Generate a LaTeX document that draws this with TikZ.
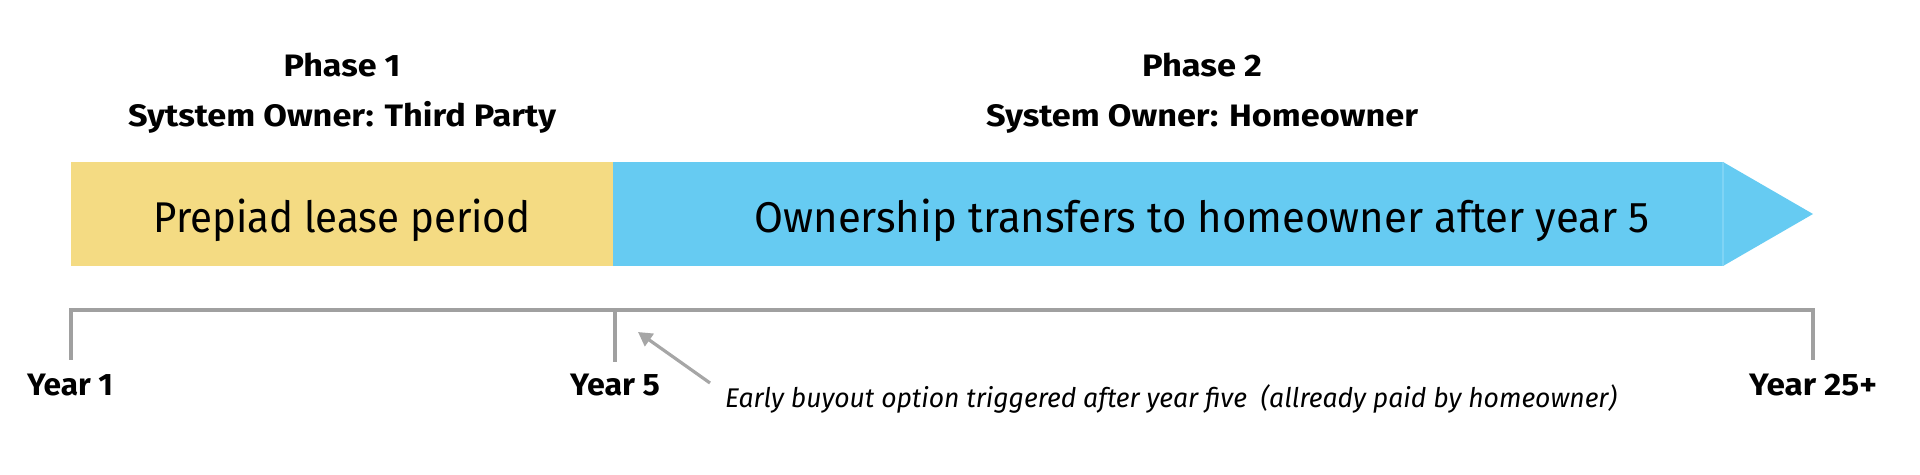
\documentclass[tikz,border=0pt]{standalone}
\usepackage{fontspec}
\setmainfont{Fira Sans}
\usepackage{graphicx}
\usetikzlibrary{arrows.meta}
\definecolor{barYellow}{HTML}{F4DB83}
\definecolor{barBlue}{HTML}{66CBF2}
\definecolor{barSeam}{HTML}{7FD4F5}
\definecolor{lineGray}{HTML}{A0A0A0}
\definecolor{arrowGray}{HTML}{A6A6A6}
\newsavebox\fitbox
\newlength\fitlen
\newcommand\fitto[2]{\sbox\fitbox{#2}\setlength\fitlen{\wd\fitbox}\pgfmathsetmacro\fitr{#1/\fitlen}\scalebox{\fitr}[1]{\usebox\fitbox}}
\tikzset{
  txt/.style={inner sep=0pt, outer sep=0pt, anchor=base},
  headtxt/.style={txt, font=\fontsize{15.5pt}{18pt}\selectfont\bfseries},
  bartxt/.style={txt, font=\fontsize{21.5pt}{26pt}\selectfont},
  yeartxt/.style={txt, font=\fontsize{15.5pt}{18pt}\selectfont\bfseries},
  notetxt/.style={txt, anchor=base west, font=\fontsize{13.5pt}{16pt}\selectfont\itshape},
  bracket/.style={draw=lineGray, line width=2pt},
  pointer/.style={draw=arrowGray, line width=1.6pt, -{Triangle[length=7pt,width=7.5pt]}}
}
\begin{document}
\begin{tikzpicture}[x=0.5pt, y=-0.5pt]
\useasboundingbox (0,0) rectangle (1920,475);
% bars
\fill[barYellow] (71,162) rectangle (613,266);
\fill[barBlue] (613,162) rectangle (1723,266);
\fill[barBlue] (1723,162) -- (1813,214) -- (1723,266) -- cycle;
\draw[barSeam, line width=0.6pt] (1723,162) -- (1723,266);
% headings
\node[headtxt] (p1) at (342,77) {\fitto{58.5}{Phase 1}};
\node[headtxt] (o1) at (342,127) {\fitto{214}{Sytstem Owner: Third Party}};
\node[headtxt] (p2) at (1202,77) {\fitto{60}{Phase 2}};
\node[headtxt] (o2) at (1202,127) {\fitto{216}{System Owner: Homeowner}};
% bar texts
\node[bartxt] (lease) at (342,233) {\fitto{188.5}{Prepiad lease period}};
\node[bartxt] (own) at (1202,233) {\fitto{447.5}{Ownership transfers to homeowner after year 5}};
% bracket
\coordinate (b1top) at (71,310);
\coordinate (b1bot) at (71,360);
\coordinate (b5top) at (615,310);
\coordinate (b5bot) at (615,362);
\coordinate (b25top) at (1813,310);
\coordinate (b25bot) at (1813,360);
\draw[bracket] (b1bot) -- (b1top) -- (b25top) -- (b25bot);
\draw[bracket] (b5top) -- (b5bot);
% year labels
\node[yeartxt] (y1) at (70,395) {\fitto{43}{Year 1}};
\node[yeartxt] (y5) at (615,395) {\fitto{45}{Year 5}};
\node[yeartxt] (y25) at (1813,395) {\fitto{64}{Year 25+}};
% annotation
\node[notetxt] (note) at (725,407) {\fitto{446}{Early buyout option triggered after year five\ \ (allready paid by homeowner)}};
\coordinate (tail) at (710,383);
\coordinate (tip) at (638,332);
\draw[pointer] (tail) -- (tip);
\end{tikzpicture}
\end{document}
